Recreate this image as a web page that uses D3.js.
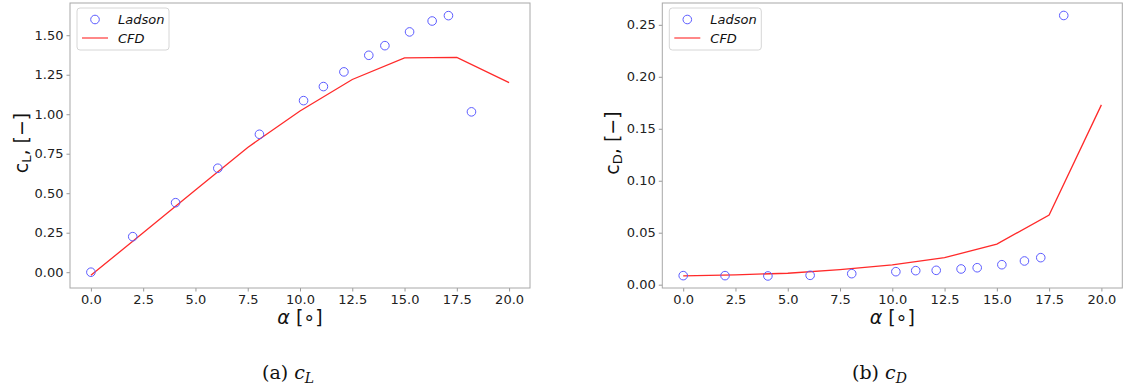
<!DOCTYPE html>
<html>
<head>
<meta charset="utf-8">
<script src="https://cdn.jsdelivr.net/npm/d3@7"></script>
<style>
  body { margin: 0; background: #fff; }
  svg { display: block; font-family: "DejaVu Sans", sans-serif; }
  .tick text { fill: #222; font-size: 13px; font-family: "DejaVu Sans", sans-serif; }
  .tick line { stroke: #999; }
</style>
</head>
<body>
<div id="chart"></div>
<script>
// Angle of attack for the experimental points (Ladson) and the CFD runs
const alphaLadson = [0, 2.0, 4.05, 6.07, 8.06, 10.17, 11.12, 12.1, 13.29, 14.06, 15.24, 16.32, 17.1, 18.2];
const clLadson = [0.00, 0.225, 0.44, 0.658, 0.873, 1.086, 1.175, 1.268, 1.373, 1.434, 1.521, 1.59, 1.624, 1.015];
const cdLadson = [0.0087, 0.0087, 0.0084, 0.0090, 0.0106, 0.0125, 0.0135, 0.0138, 0.0151, 0.0163, 0.0192, 0.0228, 0.0260, 0.259];

const alphaCFD = [0, 2.5, 5, 7.5, 10, 12.5, 15, 17.5, 20];
const clCFD = [-0.02, 0.25, 0.52, 0.79, 1.02, 1.22, 1.357, 1.36, 1.20];
const cdCFD = [0.0085, 0.0095, 0.011, 0.0145, 0.019, 0.026, 0.039, 0.067, 0.173];

// Tick values
const xTicks = [0, 2.5, 5, 7.5, 10, 12.5, 15, 17.5, 20];
const clTicks = [0, 0.25, 0.5, 0.75, 1.0, 1.25, 1.5];
const cdTicks = [0, 0.05, 0.10, 0.15, 0.20, 0.25];

const W = 1126, H = 391;
const svg = d3.select("#chart").append("svg")
    .attr("width", W)
    .attr("height", H);

const blue = "#5c5cff";
const red = "#ff2a2a";

// Draw one panel
function drawPanel(opt) {
  const x = d3.scaleLinear().domain([-1, 21]).range([opt.left, opt.right]);
  const y = d3.scaleLinear().domain(opt.yDomain).range([288, 3]);

  const g = svg.append("g");

  // x axis
  g.append("g")
      .attr("transform", `translate(0,288)`)
      .call(d3.axisBottom(x).tickValues(xTicks).tickFormat(d3.format(".1f"))
        .tickSize(3.5).tickPadding(3).tickSizeOuter(0))
      .call(a => a.select(".domain").remove());

  // y axis
  g.append("g")
      .attr("transform", `translate(${opt.left},0)`)
      .call(d3.axisLeft(y).tickValues(opt.yTicks).tickFormat(d3.format(".2f"))
        .tickSize(3.5).tickPadding(3).tickSizeOuter(0))
      .call(a => a.select(".domain").remove());

  // frame
  g.append("rect")
      .attr("x", opt.left)
      .attr("y", 3)
      .attr("width", opt.right - opt.left)
      .attr("height", 285)
      .attr("fill", "none")
      .attr("stroke", "#a8a8a8")
      .attr("stroke-width", 1);

  // CFD line
  const line = d3.line()
      .x((d, i) => x(alphaCFD[i]))
      .y(d => y(d));
  g.append("path")
      .datum(opt.cfd)
      .attr("d", line)
      .attr("fill", "none")
      .attr("stroke", red)
      .attr("stroke-width", 1.3);

  // Ladson points
  g.selectAll(".pt")
    .data(opt.ladson)
    .enter().append("circle")
      .attr("class", "pt")
      .attr("cx", (d, i) => x(alphaLadson[i]))
      .attr("cy", d => y(d))
      .attr("r", 4.3)
      .attr("fill", "none")
      .attr("stroke", blue)
      .attr("stroke-width", 1);

  // x label: alpha [deg]
  const xl = g.append("text")
      .attr("x", (opt.left + opt.right) / 2)
      .attr("y", 324)
      .attr("text-anchor", "middle")
      .style("font-size", "19px")
      .attr("fill", "#111");
  xl.append("tspan").attr("font-style", "italic").text("α");
  xl.append("tspan").text(" [∘]");

  // y label
  const yl = g.append("text")
      .attr("transform", `translate(${opt.ylabX},143) rotate(-90)`)
      .attr("text-anchor", "middle")
      .style("font-size", "19px")
      .attr("fill", "#111");
  yl.append("tspan").text("c");
  yl.append("tspan").attr("baseline-shift", "-25%").style("font-size", "13px").text(opt.sub);
  yl.append("tspan").text(", [−]");

  // legend
  const lg = g.append("g").attr("transform", `translate(${opt.left + 7},8)`);
  lg.append("rect")
      .attr("width", 92)
      .attr("height", 42)
      .attr("rx", 3)
      .attr("fill", "#fff")
      .attr("stroke", "#d6d6d6");
  lg.append("circle")
      .attr("cx", 18).attr("cy", 11.5).attr("r", 4.3)
      .attr("fill", "none").attr("stroke", blue);
  lg.append("line")
      .attr("x1", 5).attr("x2", 31).attr("y1", 30).attr("y2", 30)
      .attr("stroke", "#ff6060").attr("stroke-width", 1.5);
  lg.append("text").attr("x", 41).attr("y", 16)
      .attr("font-style", "italic").style("font-size", "13px").attr("fill", "#111")
      .text("Ladson");
  lg.append("text").attr("x", 41).attr("y", 34.5)
      .attr("font-style", "italic").style("font-size", "13px").attr("fill", "#111")
      .text("CFD");

  // caption
  const cap = svg.append("text")
      .attr("x", opt.capX)
      .attr("y", 379)
      .style("font-family", "'DejaVu Serif', serif")
      .style("font-size", "19px")
      .attr("fill", "#111");
  cap.append("tspan").text(opt.capLetter + " ");
  cap.append("tspan").attr("font-style", "italic").text("c");
  cap.append("tspan").attr("font-style", "italic").attr("baseline-shift", "-25%")
      .style("font-size", "14px").text(opt.sub);
}

drawPanel({
  left: 70, right: 530,
  yDomain: [-0.1, 1.704], yTicks: clTicks,
  ladson: clLadson, cfd: clCFD,
  sub: "L", ylabX: 28,
  capX: 262, capLetter: "(a)"
});

drawPanel({
  left: 662.3, right: 1122.3,
  yDomain: [-0.0032, 0.271], yTicks: cdTicks,
  ladson: cdLadson, cfd: cdCFD,
  sub: "D", ylabX: 619,
  capX: 852, capLetter: "(b)"
});
</script>
</body>
</html>
